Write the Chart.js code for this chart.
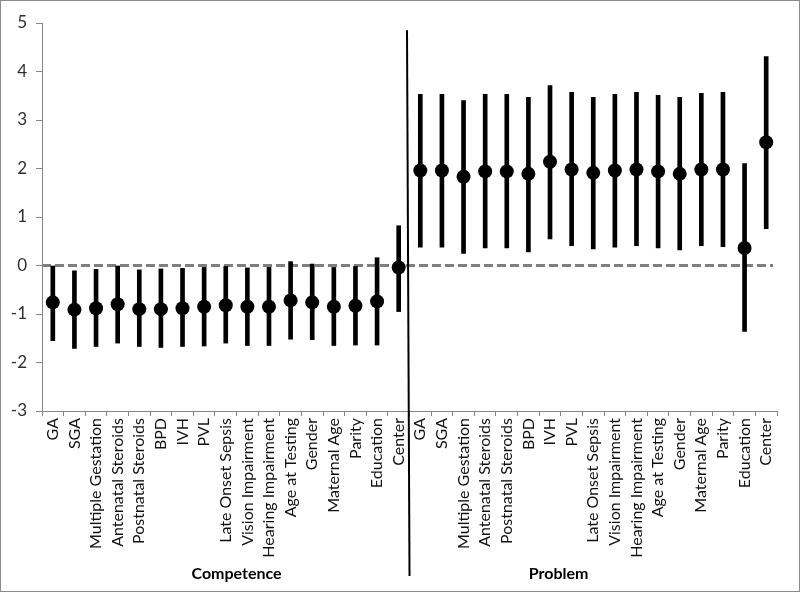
<!DOCTYPE html>
<html lang="en">
<head>
<meta charset="UTF-8">
<title>Competence vs Problem</title>
<script src="https://cdn.jsdelivr.net/npm/chart.js"></script>
<style>
  body { margin: 0; background: #fff; }
  #wrap { width: 800px; height: 592px; }
</style>
</head>
<body>
<div id="wrap"><canvas id="grafico" width="800" height="592"></canvas></div>

<script>
    // categorias (mesma lista para os dois grupos)
    const fatores = ['GA', 'SGA', 'Multiple Gestation', 'Antenatal Steroids', 'Postnatal Steroids', 'BPD', 'IVH', 'PVL',
        'Late Onset Sepsis', 'Vision Impairment', 'Hearing Impairment', 'Age at Testing', 'Gender', 'Maternal Age',
        'Parity', 'Education', 'Center'];
    const grupos = ['Competence', 'Problem'];

    // Competence
    const compEstimativa = [-0.76, -0.91, -0.88, -0.80, -0.90, -0.90, -0.88, -0.85, -0.82, -0.85, -0.85, -0.72, -0.76, -0.85, -0.83, -0.74, -0.04];
    const compInferior = [-1.55, -1.71, -1.67, -1.60, -1.67, -1.69, -1.67, -1.66, -1.60, -1.65, -1.65, -1.52, -1.53, -1.65, -1.64, -1.64, -0.95];
    const compSuperior = [0.00, -0.11, -0.08, 0.00, -0.09, -0.07, -0.06, -0.04, -0.02, -0.05, -0.04, 0.08, 0.03, -0.04, -0.02, 0.16, 0.82];

    // Problem
    const probEstimativa = [1.96, 1.96, 1.83, 1.94, 1.94, 1.89, 2.14, 1.98, 1.91, 1.96, 1.98, 1.94, 1.89, 1.98, 1.98, 0.36, 2.54];
    const probInferior = [0.38, 0.38, 0.25, 0.36, 0.36, 0.28, 0.55, 0.41, 0.34, 0.38, 0.41, 0.36, 0.32, 0.41, 0.39, -1.36, 0.76];
    const probSuperior = [3.53, 3.53, 3.40, 3.53, 3.53, 3.47, 3.71, 3.57, 3.47, 3.53, 3.57, 3.51, 3.47, 3.55, 3.57, 2.10, 4.31];

    const yTicks = [-3, -2, -1, 0, 1, 2, 3, 4, 5];
    const topoSeparador = 4.85;

    const labels = fatores.concat(fatores);
    const estimativas = compEstimativa.concat(probEstimativa);
    const intervalos = [];
    for (let i = 0; i < fatores.length; i++) intervalos.push([compInferior[i], compSuperior[i]]);
    for (let i = 0; i < fatores.length; i++) intervalos.push([probInferior[i], probSuperior[i]]);

    const corEixo = '#868686';
    const fonte = "Lato, 'Open Sans', sans-serif";

    const extras = {
        id: 'extras',
        beforeDatasetsDraw(chart) {
            const { ctx, chartArea, scales } = chart;
            const y0 = scales.y.getPixelForValue(0);
            ctx.save();
            ctx.strokeStyle = '#7f7f7f';
            ctx.lineWidth = 3;
            ctx.setLineDash([9, 4]);
            ctx.beginPath();
            ctx.moveTo(chartArea.left, y0);
            ctx.lineTo(chartArea.right - 4, y0);
            ctx.stroke();
            ctx.restore();
        },
        afterDraw(chart) {
            const { ctx, scales } = chart;
            const n = fatores.length;
            const xSep = (scales.x.getPixelForValue(n - 1) + scales.x.getPixelForValue(n)) / 2;
            ctx.save();
            // separador vertical
            ctx.strokeStyle = '#000';
            ctx.lineWidth = 2;
            ctx.beginPath();
            ctx.moveTo(xSep - 2.5, scales.y.getPixelForValue(topoSeparador));
            ctx.lineTo(xSep, 576);
            ctx.stroke();
            // nomes dos grupos
            ctx.fillStyle = '#000';
            ctx.font = "bold 16px " + fonte;
            ctx.textAlign = 'center';
            ctx.textBaseline = 'middle';
            ctx.fillText(grupos[0], scales.x.getPixelForValue(8.5), 574);
            ctx.fillText(grupos[1], scales.x.getPixelForValue(23.4), 574);
            // moldura
            ctx.strokeStyle = '#8c8c8c';
            ctx.lineWidth = 1;
            ctx.strokeRect(0.5, 0.5, 799, 591);
            ctx.restore();
        }
    };

    new Chart(document.getElementById('grafico'), {
        type: 'bar',
        data: {
            labels: labels,
            datasets: [{
                type: 'line',
                data: estimativas,
                showLine: false,
                pointRadius: 7,
                pointHoverRadius: 7,
                pointBackgroundColor: '#000',
                pointBorderColor: '#000',
                pointBorderWidth: 0,
                order: 0
            }, {
                type: 'bar',
                data: intervalos,
                backgroundColor: '#000',
                barThickness: 4,
                borderSkipped: false,
                order: 1
            }]
        },
        options: {
            responsive: false,
            animation: false,
            events: [],
            layout: { padding: { top: 23, right: 23, left: 0, bottom: 0 } },
            plugins: {
                legend: { display: false },
                tooltip: { enabled: false }
            },
            scales: {
                x: {
                    offset: true,
                    afterFit: s => { s.height = 181; },
                    grid: { offset: true, drawOnChartArea: false, color: corEixo, tickLength: 5 },
                    border: { color: corEixo, width: 1 },
                    ticks: {
                        autoSkip: false,
                        maxRotation: 90,
                        minRotation: 90,
                        padding: 2,
                        color: '#111',
                        font: { family: fonte, size: 16 }
                    }
                },
                y: {
                    min: -3,
                    max: 5,
                    afterFit: s => { s.width = 42; },
                    afterBuildTicks: s => { s.ticks = yTicks.map(v => ({ value: v })); },
                    grid: { drawOnChartArea: false, color: corEixo, tickLength: 6 },
                    border: { color: corEixo, width: 1 },
                    ticks: {
                        padding: 9,
                        color: '#303030',
                        font: { family: fonte, size: 17 }
                    }
                }
            }
        },
        plugins: [extras]
    });
</script>
</body>
</html>
